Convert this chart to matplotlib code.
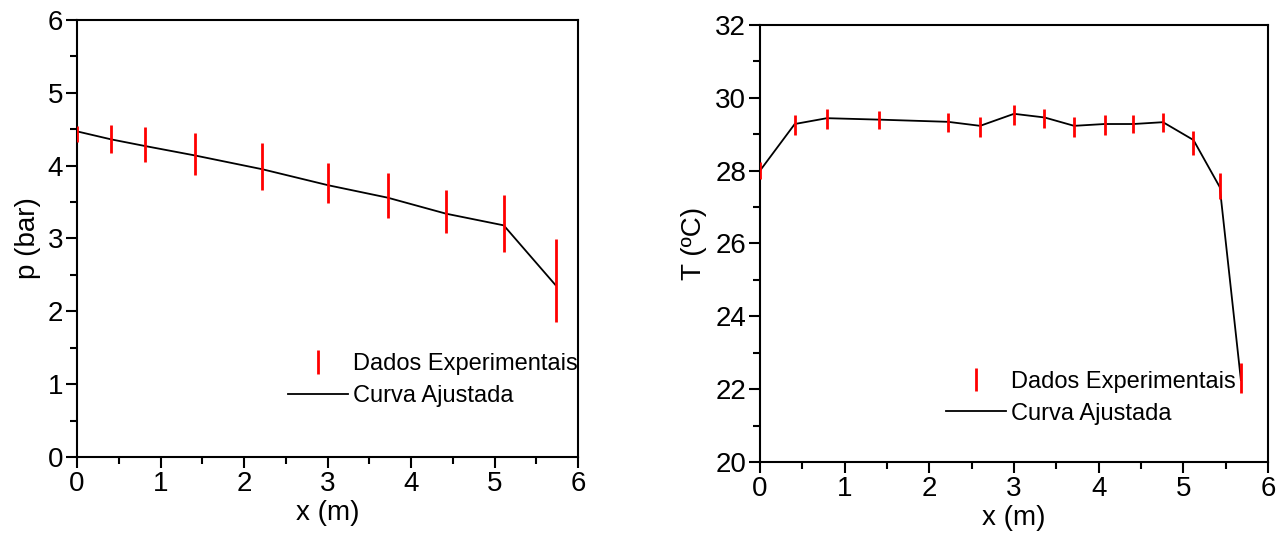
import numpy as np
import matplotlib
matplotlib.use("Agg")
import matplotlib.pyplot as plt
from matplotlib.ticker import MultipleLocator

plt.rcParams['font.family'] = ['Liberation Sans', 'DejaVu Sans']

# pressao ao longo do tubo
x_p = [0.0, 0.41, 0.81, 1.41, 2.22, 3.01, 3.72, 4.42, 5.11, 5.73]
p_exp = [4.44, 4.37, 4.29, 4.16, 3.99, 3.76, 3.59, 3.37, 3.20, 2.42]
p_err = [0.11, 0.19, 0.24, 0.29, 0.32, 0.27, 0.31, 0.30, 0.39, 0.57]
p_fit = [4.47, 4.36, 4.27, 4.14, 3.95, 3.73, 3.56, 3.34, 3.18, 2.36]

# temperatura ao longo do tubo
x_T = [0.0, 0.41, 0.79, 1.41, 2.22, 2.60, 3.00, 3.36, 3.71, 4.07, 4.41, 4.76, 5.12, 5.43, 5.68]
T_exp = [28.0, 29.26, 29.41, 29.39, 29.33, 29.19, 29.53, 29.44, 29.19, 29.26, 29.28, 29.33, 28.75, 27.58, 22.31]
T_err = [0.23, 0.28, 0.28, 0.26, 0.26, 0.28, 0.28, 0.26, 0.28, 0.28, 0.26, 0.26, 0.33, 0.36, 0.41]
T_fit = [28.0, 29.28, 29.44, 29.40, 29.34, 29.23, 29.56, 29.46, 29.23, 29.28, 29.28, 29.33, 28.84, 27.55, 22.25]

fig = plt.figure(figsize=(12.86, 5.33), dpi=100)
ax1 = fig.add_axes([0.0599, 0.1426, 0.3896, 0.82])
ax2 = fig.add_axes([0.591, 0.1332, 0.395, 0.82])


def estilo(ax):
    for s in ax.spines.values():
        s.set_linewidth(1.5)
    ax.tick_params(which='major', direction='out', length=8, width=1.5, labelsize=20,
                   top=False, right=False, pad=2)
    ax.tick_params(which='minor', direction='out', length=5, width=1.5,
                   top=False, right=False)
    ax.xaxis.set_major_locator(MultipleLocator(1))
    ax.xaxis.set_minor_locator(MultipleLocator(0.5))
    ax.set_xlim(0, 6)
    ax.set_xlabel('x (m)', fontsize=20, labelpad=2)


def legenda(ax, eb, ln, pos):
    ax.legend([eb, ln], ['Dados Experimentais', 'Curva Ajustada'],
              loc='upper left', bbox_to_anchor=pos, frameon=False, fontsize=17,
              borderpad=0, borderaxespad=0, handlelength=2.55, handletextpad=0.2,
              labelspacing=0.42)


eb1 = ax1.errorbar(x_p, p_exp, yerr=p_err, fmt='none', ecolor='red', elinewidth=2,
                   capsize=0, zorder=3)
ln1, = ax1.plot(x_p, p_fit, color='black', lw=1.3, zorder=2)
estilo(ax1)
ax1.set_ylim(0, 6)
ax1.yaxis.set_major_locator(MultipleLocator(1))
ax1.yaxis.set_minor_locator(MultipleLocator(0.5))
ax1.set_ylabel('p (bar)', fontsize=20, labelpad=5)
legenda(ax1, eb1, ln1, (0.421, 0.237))

eb2 = ax2.errorbar(x_T, T_exp, yerr=T_err, fmt='none', ecolor='red', elinewidth=2,
                   capsize=0, zorder=3)
ln2, = ax2.plot(x_T, T_fit, color='black', lw=1.3, zorder=2)
estilo(ax2)
ax2.set_ylim(20, 32)
ax2.yaxis.set_major_locator(MultipleLocator(2))
ax2.yaxis.set_minor_locator(MultipleLocator(1))
ax2.set_ylabel('T (ºC)', fontsize=20, labelpad=6)
legenda(ax2, eb2, ln2, (0.366, 0.209))

fig.savefig('out.png', dpi=100)
